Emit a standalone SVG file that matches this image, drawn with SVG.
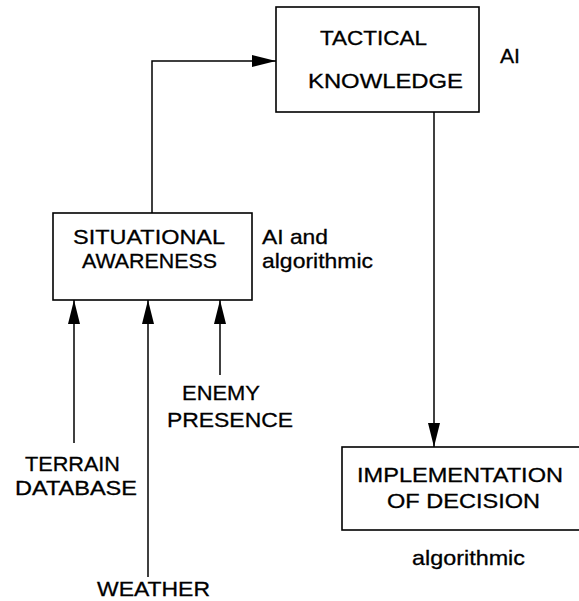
<svg xmlns="http://www.w3.org/2000/svg" width="579" height="601" viewBox="0 0 579 601">
<defs>
<marker id="ah" markerWidth="24" markerHeight="12" refX="24" refY="6" orient="auto" markerUnits="userSpaceOnUse">
<path d="M0,0 L24,6 L0,12 Z" fill="#000"/>
</marker>
<style>
.box{fill:#fff;stroke:#000;stroke-width:1.6}
.ln{fill:none;stroke:#000;stroke-width:1.5}
text{font-family:"Liberation Sans",Arial,sans-serif;font-size:21px;fill:#000;stroke:#000;stroke-width:0.3}
.c{text-anchor:middle}
</style>
</defs>
<rect width="579" height="601" fill="#fff"/>
<g id="connectors">
<path class="ln" d="M152,213 V61 H276" marker-end="url(#ah)"/>
<path class="ln" d="M434,112 V447" marker-end="url(#ah)"/>
<path class="ln" d="M74,443 V300" marker-end="url(#ah)"/>
<path class="ln" d="M148,577 V300" marker-end="url(#ah)"/>
<path class="ln" d="M220,375 V300" marker-end="url(#ah)"/>
</g>
<g id="tactical">
<rect class="box" x="276" y="7" width="203" height="105"/>
<text x="320" y="45" textLength="107" lengthAdjust="spacingAndGlyphs">TACTICAL</text>
<text x="308" y="88" textLength="155" lengthAdjust="spacingAndGlyphs">KNOWLEDGE</text>
<text x="500" y="63" textLength="20" lengthAdjust="spacingAndGlyphs">AI</text>
</g>
<g id="situational">
<rect class="box" x="53" y="213" width="199" height="87"/>
<text x="73" y="244" textLength="152" lengthAdjust="spacingAndGlyphs">SITUATIONAL</text>
<text x="82" y="268" textLength="135" lengthAdjust="spacingAndGlyphs">AWARENESS</text>
<text x="262" y="244" textLength="66" lengthAdjust="spacingAndGlyphs">AI and</text>
<text x="262" y="268" textLength="111" lengthAdjust="spacingAndGlyphs">algorithmic</text>
</g>
<g id="implementation">
<rect class="box" x="342" y="447" width="242" height="83"/>
<text x="357" y="482" textLength="206" lengthAdjust="spacingAndGlyphs">IMPLEMENTATION</text>
<text x="387" y="508" textLength="153" lengthAdjust="spacingAndGlyphs">OF DECISION</text>
<text x="412" y="565" textLength="113" lengthAdjust="spacingAndGlyphs">algorithmic</text>
</g>
<g id="terrain">
<text x="25" y="471" textLength="95" lengthAdjust="spacingAndGlyphs">TERRAIN</text>
<text x="15" y="495" textLength="122" lengthAdjust="spacingAndGlyphs">DATABASE</text>
</g>
<g id="weather">
<text x="97" y="596" textLength="113" lengthAdjust="spacingAndGlyphs">WEATHER</text>
</g>
<g id="enemy">
<text x="182" y="400" textLength="78" lengthAdjust="spacingAndGlyphs">ENEMY</text>
<text x="167" y="427" textLength="126" lengthAdjust="spacingAndGlyphs">PRESENCE</text>
</g>
</svg>
